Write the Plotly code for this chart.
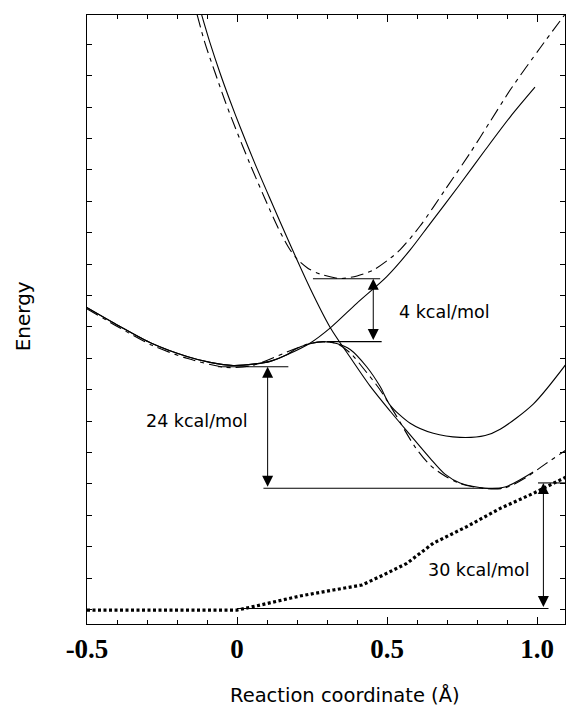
import plotly.graph_objects as go

# ---------------- data ----------------
# x: reaction coordinate (Å); y: energy in axis-tick units (1 tick = 1 unit)

# solid: reactant diabatic curve
r_x = [-0.501, -0.393, -0.285, -0.164, -0.09, -0.013, 0.06, 0.11, 0.166, 0.243, 0.31,
       0.399, 0.499, 0.577, 0.643, 0.743, 0.827, 0.91, 0.993]
r_y = [9.62, 9.03, 8.48, 8.05, 7.87, 7.77, 7.82, 7.90, 8.11, 8.48, 8.96,
       9.75, 10.60, 11.45, 12.28, 13.54, 14.63, 15.68, 16.63]

# solid: product diabatic curve (steep)
p_x = [-0.118, -0.09, -0.057, -0.023, 0.01, 0.06, 0.11, 0.177, 0.243, 0.31, 0.377,
       0.443, 0.51, 0.577, 0.643, 0.693, 0.743, 0.827, 0.893, 0.987]
p_y = [18.94, 18.04, 17.09, 16.19, 15.37, 14.19, 13.08, 11.62, 10.24, 8.99, 8.03,
       7.12, 6.32, 5.56, 4.82, 4.31, 4.03, 3.86, 3.90, 4.38]

# solid: second lower curve (from barrier to the right-hand well)
s_x = [-0.501, -0.393, -0.285, -0.164, -0.09, -0.013, 0.06, 0.11, 0.166, 0.197, 0.243,
       0.287, 0.332, 0.377, 0.432, 0.477, 0.51, 0.577, 0.654, 0.743, 0.827, 0.877,
       0.988, 1.097]
s_y = [9.62, 9.03, 8.48, 8.05, 7.87, 7.77, 7.82, 7.90, 8.11, 8.30, 8.46,
       8.53, 8.47, 8.28, 7.73, 7.10, 6.51, 5.93, 5.61, 5.48, 5.54, 5.74,
       6.55, 7.82]

# dashed: lower adiabatic curve
g_x = [-0.501, -0.393, -0.285, -0.164, -0.04, 0.043, 0.099, 0.166, 0.21, 0.243, 0.287,
       0.332, 0.377, 0.42, 0.477, 0.527, 0.593, 0.643, 0.693, 0.743, 0.827, 0.893,
       0.966, 1.027, 1.097]
g_y = [9.58, 8.98, 8.42, 7.99, 7.71, 7.75, 7.93, 8.20, 8.36, 8.47, 8.52,
       8.47, 8.17, 7.69, 6.99, 6.23, 5.18, 4.60, 4.25, 4.01, 3.85, 3.87,
       4.22, 4.63, 5.08]

# dashed: upper adiabatic curve
e_x = [-0.133, -0.107, -0.073, -0.04, -0.007, 0.043, 0.093, 0.137, 0.173, 0.2, 0.237,
       0.277, 0.343, 0.4, 0.454, 0.51, 0.543, 0.61, 0.693, 0.777, 0.843, 0.913,
       1.01, 1.097]
e_y = [18.94, 18.04, 17.09, 16.19, 15.37, 14.19, 13.08, 12.15, 11.51, 11.16, 10.86,
       10.68, 10.54, 10.62, 10.81, 11.18, 11.45, 12.21, 13.36, 14.54, 15.53, 16.58,
       17.88, 19.0]

# dotted: bottom curve
d_x = [-0.5, 0.0, 0.077, 0.21, 0.321, 0.416, 0.488, 0.566, 0.654, 0.766, 0.877, 0.988, 1.097]
d_y = [-0.02, -0.02, 0.14, 0.43, 0.62, 0.78, 1.10, 1.47, 2.11, 2.64, 3.22, 3.70, 4.22]

# energy-gap markers
gap_labels = ["4 kcal/mol", "24 kcal/mol", "30 kcal/mol"]
gap_x = [0.454, 0.102, 1.021]
gap_lo = [8.53, 3.86, 0.03]
gap_hi = [10.53, 7.73, 4.03]
gap_text_x = [0.69, -0.134, 0.805]
gap_text_y = [9.47, 6.0, 1.26]

# horizontal reference levels
lvl_x0 = [0.253, 0.30, -0.063, 0.088, 1.003, 0.0]
lvl_x1 = [0.477, 0.482, 0.171, 0.883, 1.093, 1.038]
lvl_y = [10.53, 8.53, 7.73, 3.86, 4.03, 0.03]

x_tickvals = [-0.5, 0.0, 0.5, 1.0]
x_ticktext = ["-0.5", "0", "0.5", "1.0"]

# ---------------- figure ----------------
fig = go.Figure()

DASH = "13px,5px,4px,5px"


def add_curve(x, y, dash, width=1.1, shape="spline"):
    fig.add_trace(go.Scatter(x=x, y=y, mode="lines",
                             line=dict(color="black", width=width, dash=dash,
                                       shape=shape, smoothing=0.8),
                             hoverinfo="skip", showlegend=False))


add_curve(r_x, r_y, "solid")
add_curve(p_x, p_y, "solid")
add_curve(s_x, s_y, "solid")
add_curve(g_x, g_y, DASH)
add_curve(e_x, e_y, DASH)
add_curve(d_x, d_y, "3px,2.5px", width=3.2, shape="linear")

for x0, x1, y in zip(lvl_x0, lvl_x1, lvl_y):
    fig.add_trace(go.Scatter(x=[x0, x1], y=[y, y], mode="lines",
                             line=dict(color="black", width=1.1),
                             hoverinfo="skip", showlegend=False))

for lab, ax_, lo, hi, tx, ty in zip(gap_labels, gap_x, gap_lo, gap_hi, gap_text_x, gap_text_y):
    fig.add_annotation(x=ax_, y=hi, ax=ax_, ay=lo, xref="x", yref="y", axref="x", ayref="y",
                       text="", showarrow=True, arrowhead=2, startarrowhead=2,
                       arrowside="end+start", arrowsize=2.2, startarrowsize=2.2,
                       arrowwidth=1, arrowcolor="black")
    fig.add_annotation(x=tx, y=ty, xref="x", yref="y", text=lab, showarrow=False,
                       font=dict(family="DejaVu Sans", size=17.5, color="black"),
                       xanchor="center", yanchor="middle")

fig.add_annotation(x=-0.135, y=0.506, xref="paper", yref="paper", text="Energy",
                   showarrow=False, textangle=-90,
                   font=dict(family="DejaVu Sans", size=20, color="black"),
                   xanchor="center", yanchor="middle")
fig.add_annotation(x=0.54, y=-0.138, xref="paper", yref="paper",
                   text="Reaction coordinate (Å)", showarrow=False,
                   font=dict(family="DejaVu Sans", size=19.5, color="black"),
                   xanchor="center", yanchor="bottom", borderpad=0)

fig.update_layout(width=566, height=709, margin=dict(l=87, r=1, t=15, b=85),
                  paper_bgcolor="white", plot_bgcolor="white", showlegend=False)

fig.update_xaxes(range=[-0.5, 1.093], tickmode="array", tickvals=x_tickvals,
                 ticktext=x_ticktext, ticks="inside", ticklen=7, tickwidth=1,
                 tickcolor="black", showline=True, linecolor="black", linewidth=1.3,
                 mirror="allticks", showgrid=False, zeroline=False,
                 tickfont=dict(family="Liberation Serif", size=27, color="black",
                               weight="bold"),
                 minor=dict(tickmode="linear", tick0=0, dtick=0.1, ticks="inside",
                            ticklen=4, tickwidth=1, tickcolor="black", showgrid=False))
fig.update_yaxes(range=[-0.462, 18.93], tickmode="linear", tick0=0, dtick=1,
                 ticks="inside", ticklen=5, tickwidth=1, tickcolor="black",
                 showticklabels=False, showline=True, linecolor="black", linewidth=1.3,
                 mirror="allticks", showgrid=False, zeroline=False)

# remove the default page margin so the figure fills the 566x709 window exactly
fig.write_html("out.html", config={"displayModeBar": False},
               post_script="document.body.style.margin='0';document.body.style.overflow='hidden';")
